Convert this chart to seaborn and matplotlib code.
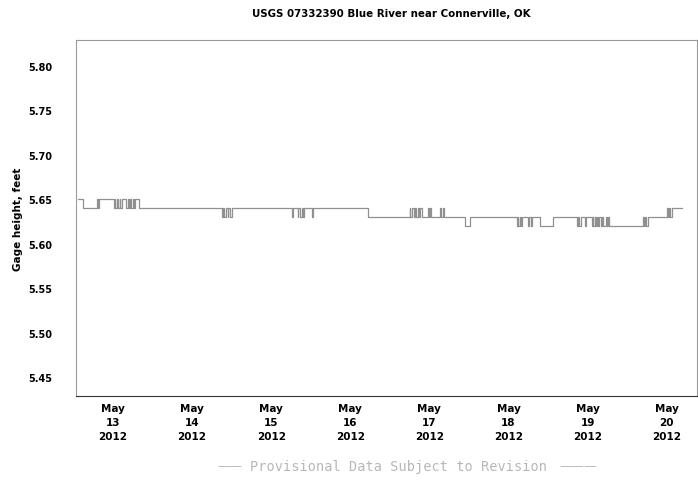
import matplotlib
matplotlib.use("Agg")
import matplotlib.pyplot as plt
import seaborn as sns
import pandas as pd

# ---- data: step change points (time, gage height in feet) ----
change_times = [
    "2012-05-12 13:15", "2012-05-12 15:00", "2012-05-12 19:00", "2012-05-12 19:30", "2012-05-12 19:45",
    "2012-05-13 00:15", "2012-05-13 00:30", "2012-05-13 00:45", "2012-05-13 01:15", "2012-05-13 01:30",
    "2012-05-13 02:00", "2012-05-13 02:15", "2012-05-13 02:45", "2012-05-13 04:00", "2012-05-13 04:30",
    "2012-05-13 04:45", "2012-05-13 05:15", "2012-05-13 05:30", "2012-05-13 06:00", "2012-05-13 06:30",
    "2012-05-13 06:45", "2012-05-13 07:45",
    "2012-05-14 09:00", "2012-05-14 09:15", "2012-05-14 09:45", "2012-05-14 10:15", "2012-05-14 10:45",
    "2012-05-14 11:00", "2012-05-14 11:30", "2012-05-14 12:00",
    "2012-05-15 06:15", "2012-05-15 06:45", "2012-05-15 08:00", "2012-05-15 08:15", "2012-05-15 08:45",
    "2012-05-15 09:15", "2012-05-15 09:45", "2012-05-15 10:00", "2012-05-15 12:15", "2012-05-15 12:45",
    "2012-05-16 05:15",
    "2012-05-16 18:00", "2012-05-16 18:15", "2012-05-16 18:45", "2012-05-16 19:15", "2012-05-16 19:30",
    "2012-05-16 20:00", "2012-05-16 20:30", "2012-05-16 20:45", "2012-05-16 21:15", "2012-05-16 21:45",
    "2012-05-16 23:30", "2012-05-17 00:00", "2012-05-17 00:15", "2012-05-17 00:30", "2012-05-17 03:15",
    "2012-05-17 03:30", "2012-05-17 04:00", "2012-05-17 04:30",
    "2012-05-17 10:45", "2012-05-17 12:15",
    "2012-05-18 02:30", "2012-05-18 02:45", "2012-05-18 03:00", "2012-05-18 03:30", "2012-05-18 03:45",
    "2012-05-18 04:15", "2012-05-18 06:00", "2012-05-18 06:15", "2012-05-18 06:45", "2012-05-18 07:00",
    "2012-05-18 09:30", "2012-05-18 13:30",
    "2012-05-18 20:45", "2012-05-18 21:00", "2012-05-18 21:30", "2012-05-18 22:00", "2012-05-18 23:15",
    "2012-05-18 23:30", "2012-05-19 01:15", "2012-05-19 01:30", "2012-05-19 01:45", "2012-05-19 02:15",
    "2012-05-19 02:30", "2012-05-19 03:00", "2012-05-19 03:15", "2012-05-19 03:30", "2012-05-19 04:00",
    "2012-05-19 04:15", "2012-05-19 04:45", "2012-05-19 05:30", "2012-05-19 05:45", "2012-05-19 06:15",
    "2012-05-19 06:30",
    "2012-05-19 16:45", "2012-05-19 17:00", "2012-05-19 17:30", "2012-05-19 17:45", "2012-05-19 18:15",
    "2012-05-20 00:00", "2012-05-20 00:15", "2012-05-20 00:45", "2012-05-20 01:00", "2012-05-20 01:45",
    "2012-05-20 04:30",
]
change_values = [
    5.65, 5.64, 5.65, 5.64, 5.65,
    5.64, 5.65, 5.64, 5.65, 5.64,
    5.65, 5.64, 5.65, 5.64, 5.65,
    5.64, 5.65, 5.64, 5.65, 5.64,
    5.65, 5.64,
    5.63, 5.64, 5.63, 5.64, 5.63,
    5.64, 5.63, 5.64,
    5.63, 5.64, 5.63, 5.64, 5.63,
    5.64, 5.63, 5.64, 5.63, 5.64,
    5.63,
    5.64, 5.63, 5.64, 5.63, 5.64,
    5.63, 5.64, 5.63, 5.64, 5.63,
    5.64, 5.63, 5.64, 5.63, 5.64,
    5.63, 5.64, 5.63,
    5.62, 5.63,
    5.62, 5.63, 5.62, 5.63, 5.62,
    5.63, 5.62, 5.63, 5.62, 5.63,
    5.62, 5.63,
    5.62, 5.63, 5.62, 5.63, 5.62,
    5.63, 5.62, 5.63, 5.62, 5.63,
    5.62, 5.63, 5.62, 5.63, 5.62,
    5.63, 5.62, 5.63, 5.62, 5.63,
    5.62,
    5.63, 5.62, 5.63, 5.62, 5.63,
    5.64, 5.63, 5.64, 5.63, 5.64,
    5.64,
]

tick_dates = ["2012-05-13", "2012-05-14", "2012-05-15", "2012-05-16",
              "2012-05-17", "2012-05-18", "2012-05-19", "2012-05-20"]
tick_labels = ["May\n13\n2012", "May\n14\n2012", "May\n15\n2012", "May\n16\n2012",
               "May\n17\n2012", "May\n18\n2012", "May\n19\n2012", "May\n20\n2012"]
y_ticks = [5.45, 5.50, 5.55, 5.60, 5.65, 5.70, 5.75, 5.80]

title = "USGS 07332390 Blue River near Connerville, OK"
y_label = "Gage height, feet"
footer = "Provisional Data Subject to Revision"

df = pd.DataFrame({"time": pd.to_datetime(change_times), "height": change_values})

sns.set_theme(style="white")
plt.rcParams["font.family"] = ["DejaVu Sans"]

fig = plt.figure(figsize=(6.98, 4.81), dpi=100)
ax = fig.add_axes([76 / 698, 1 - 397 / 481, (697 - 76) / 698, (397 - 41) / 481])

sns.lineplot(data=df, x="time", y="height", ax=ax, estimator=None,
             drawstyle="steps-post", color="#909090", linewidth=0.9)

ax.set_xlim(pd.Timestamp("2012-05-12 12:46"), pd.Timestamp("2012-05-20 09:12"))
ax.set_ylim(5.429, 5.829)

ax.set_xticks(pd.to_datetime(tick_dates))
ax.set_xticklabels(tick_labels, fontsize=7.5, fontweight="bold", linespacing=1.5)
ax.set_yticks(y_ticks)
ax.set_yticklabels([f"{v:.2f}" for v in y_ticks], fontsize=7, fontweight="bold")
ax.tick_params(axis="y", length=0, pad=17, colors="black")
ax.tick_params(axis="x", length=0, pad=5, colors="black")

ax.set_xlabel("")
ax.set_ylabel(y_label, fontsize=7.5, fontweight="bold", labelpad=4, color="black")
ax.grid(False)

for side in ["top", "left", "right"]:
    ax.spines[side].set_color("#9a9a9a")
    ax.spines[side].set_linewidth(0.8)
ax.spines["bottom"].set_color("#333333")
ax.spines["bottom"].set_linewidth(0.8)

fig.text(391 / 698, 1 - 14 / 481, title, ha="center", va="center",
         fontsize=7.4, fontweight="bold", color="black")
fig.text(398 / 698, 1 - 467 / 481, footer, ha="center", va="center",
         fontsize=9.8, family="DejaVu Sans Mono", color="#b8b8b8")
fig.text(230 / 698, 1 - 467 / 481, "\u2014\u2014", ha="center", va="center",
         fontsize=9, color="#b8b8b8")
fig.text(578 / 698, 1 - 467 / 481, "\u2014\u2014\u2014", ha="center", va="center",
         fontsize=9, color="#b8b8b8")

fig.savefig("out.png", dpi=100, facecolor="white")
